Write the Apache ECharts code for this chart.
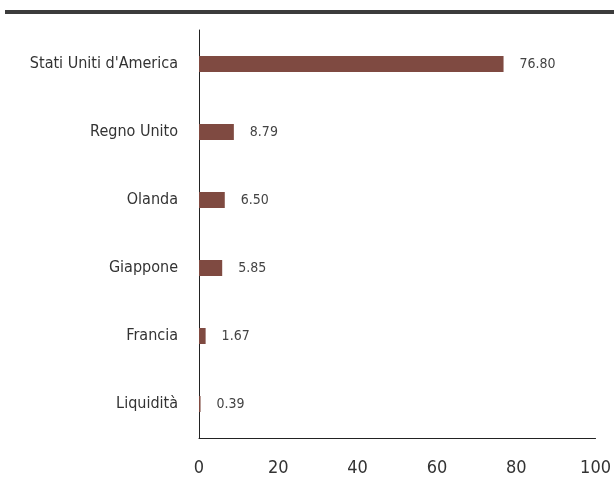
<!DOCTYPE html>
<html><head><meta charset="utf-8">
<script src="https://cdn.jsdelivr.net/npm/echarts@6/dist/echarts.min.js"></script>
<style>html,body{margin:0;padding:0;background:#fff}#c{width:614px;height:477px}</style>
</head><body><div id="c"></div>
<script>
var categories = ["Stati Uniti d'America","Regno Unito","Olanda","Giappone","Francia","Liquidità"];
var values = [76.80, 8.79, 6.50, 5.85, 1.67, 0.39];
var xTicks = [0, 20, 40, 60, 80, 100];
var font = "'DejaVu Sans Condensed', 'Liberation Sans Narrow', sans-serif";
var chart = echarts.init(document.getElementById('c'));
chart.setOption({
  animation: false,
  graphic: [{type:'rect', shape:{x:5,y:10,width:609,height:4}, style:{fill:'#3c3c3c'}}],
  grid: {left:199, top:30, right:16, bottom:38},
  xAxis: {type:'value', min:xTicks[0], max:xTicks[xTicks.length-1], interval:20,
    axisLine:{show:true, lineStyle:{color:'#222', width:1}},
    axisTick:{show:false}, splitLine:{show:false},
    axisLabel:{margin:21, fontSize:18, color:'#333', fontFamily:font}},
  yAxis: {type:'category', inverse:true, data:categories,
    axisLine:{show:true, lineStyle:{color:'#222', width:1}},
    axisTick:{show:false},
    axisLabel:{margin:21, fontSize:16, color:'#333', fontFamily:font}},
  series: [{type:'bar', data:values, barWidth:16,
    itemStyle:{color:'#7f4a41'},
    label:{show:true, position:'right', distance:16, fontSize:14, color:'#444', fontFamily:font,
      formatter:function(p){return p.value.toFixed(2);}}}]
});
</script></body></html>
